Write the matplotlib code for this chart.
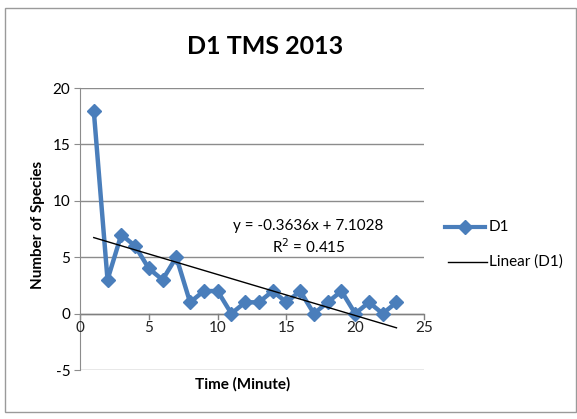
import matplotlib
matplotlib.use("Agg")
import matplotlib.pyplot as plt
import numpy as np
from matplotlib.patches import Rectangle
from matplotlib.lines import Line2D

minutes = list(range(1, 24))
species = [18, 3, 7, 6, 4, 3, 5, 1, 2, 2, 0, 1, 1, 2, 1, 2, 0, 1, 2, 0, 1, 0, 1]
slope = -0.3636
intercept = 7.1028
x_ticks = [0, 5, 10, 15, 20, 25]
y_ticks = [-5, 0, 5, 10, 15, 20]

plt.rcParams['font.family'] = ['Lato', 'DejaVu Sans']
plt.rcParams['axes.unicode_minus'] = False

fig = plt.figure(figsize=(5.77, 4.19), dpi=100)
fig.patch.set_facecolor('white')
# chart frame
fig.add_artist(Rectangle((5/577, 1-412/419), 571/577, (412-8)/419, transform=fig.transFigure,
                         fill=False, edgecolor='#9a9a9a', linewidth=1))

ax = fig.add_axes([80/577, 1-370/419, (424-80)/577, (370-88)/419])
ax.set_xlim(0, 25)
ax.set_ylim(-5, 20)
for yv in y_ticks:
    ax.axhline(yv, color='#8c8c8c', linewidth=1, zorder=0)
for s in ['top', 'right', 'bottom']:
    ax.spines[s].set_visible(False)
ax.spines['left'].set_color('#8c8c8c')
ax.set_yticks(y_ticks)
ax.tick_params(axis='y', length=4, color='#8c8c8c', labelsize=11, pad=3)
ax.set_xticks([])

# x-axis at y=0
ax.plot([0, 25], [0, 0], color='#7f7f7f', linewidth=1, zorder=1)
for xv in x_ticks:
    ax.plot([xv, xv], [0, -0.45], color='#7f7f7f', linewidth=1, clip_on=False, zorder=1)
    ax.text(xv, -1.3, str(xv), ha='center', va='center', fontsize=11, color='#222222')

ax.plot(minutes, species, color='#4a7ebb', linewidth=3.2, marker='D', markersize=7.5,
        markeredgecolor='#4a7ebb', zorder=3, clip_on=False)
xt = np.array([minutes[0], minutes[-1]])
ax.plot(xt, slope * xt + intercept, color='black', linewidth=1, zorder=4)

ax.text(16.6, 7.8, 'y = -0.3636x + 7.1028', ha='center', va='center', fontsize=11)
ax.text(16.6, 5.9, 'R$^2$ = 0.415', ha='center', va='center', fontsize=11)

fig.text(265/577, 1-46/419, 'D1 TMS 2013', ha='center', va='center', fontsize=18, fontweight='bold')
fig.text(243/577, 1-384/419, 'Time (Minute)', ha='center', va='center', fontsize=11, fontweight='bold')
fig.text(38/577, 1-225/419, 'Number of Species', ha='center', va='center', fontsize=11,
         fontweight='bold', rotation=90)

# legend
lx0, lx1 = 445/577, 485/577
ly1 = 1-227/419
ly2 = 1-262/419
fig.add_artist(Line2D([lx0, lx1], [ly1, ly1], transform=fig.transFigure, color='#4a7ebb', linewidth=3))
fig.add_artist(Line2D([(lx0+lx1)/2], [ly1], transform=fig.transFigure, color='#4a7ebb', marker='D',
                      markersize=7, linestyle='none'))
fig.text(489/577, ly1, 'D1', ha='left', va='center', fontsize=11)
fig.add_artist(Line2D([lx0+3/577, lx1+2/577], [ly2, ly2], transform=fig.transFigure, color='black', linewidth=1))
fig.text(489/577, ly2, 'Linear (D1)', ha='left', va='center', fontsize=11)

fig.savefig('out.png', dpi=100)
